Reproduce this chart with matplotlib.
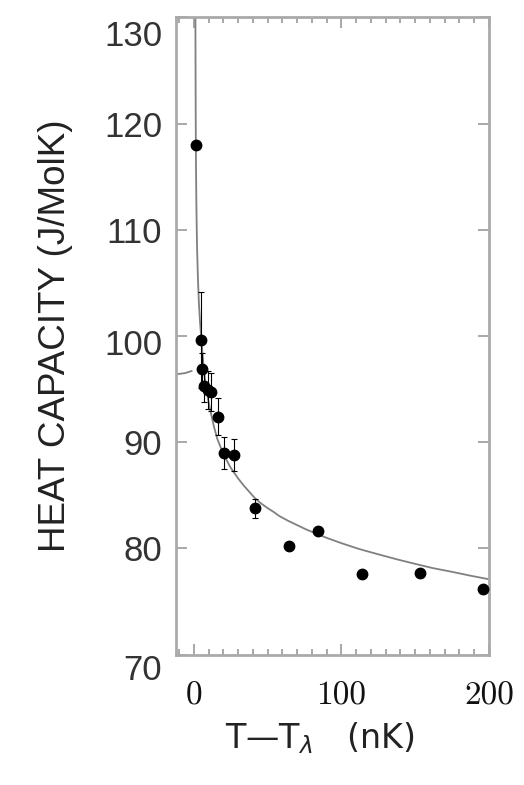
import numpy as np
import matplotlib
matplotlib.use('Agg')
import matplotlib.pyplot as plt
from matplotlib.ticker import MultipleLocator
from matplotlib.transforms import ScaledTranslation

# Data points: T - T_lambda (nK), heat capacity (J/Mol K), error
t_data = [1.3, 5.2, 5.9, 7.0, 9.7, 11.5, 16.7, 20.5, 27.3, 41.6, 64.6, 84.3, 113.7, 153.2, 195.7]
c_data = [118.0, 99.6, 96.9, 95.3, 94.9, 94.7, 92.4, 89.0, 88.8, 83.8, 80.2, 81.6, 77.6, 77.7, 76.2]
c_err = [0, 4.5, 1.5, 1.5, 1.8, 1.8, 1.75, 1.5, 1.5, 0.9, 0, 0, 0, 0, 0]

# Fit curve above T_lambda, sampled along the drawn line
t_fit = [1.1, 1.3, 1.5, 1.8, 2.2, 2.8, 3.5, 4.3, 5.2, 6.0, 7.0, 8.5, 10.0, 12.0, 13.8,
         16.0, 20.0, 25.0, 30.0, 34.0, 41.0, 45.0, 50.0, 54.0, 58.0, 64.0, 70.0, 76.0, 83.0,
         90.0, 100.0, 112.0, 125.0, 137.0, 150.0, 162.0, 175.0, 187.0, 200.0]
c_fit = [130.0, 121.0, 116.0, 112.0, 108.5, 105.5, 103.0, 101.2, 99.6, 98.2, 96.6, 95.0, 93.8, 92.5, 91.4,
         90.3, 88.9, 87.6, 86.6, 85.9, 84.8, 84.3, 83.8, 83.45, 83.05, 82.6, 82.2, 81.8, 81.4,
         81.0, 80.5, 79.95, 79.45, 79.0, 78.55, 78.15, 77.8, 77.45, 77.1]

# Fit curve below T_lambda
t_low = [-12.0, -6.0, -1.5]
c_low = [96.4, 96.5, 96.7]

y_ticks = [70, 80, 90, 100, 110, 120, 130]
x_ticks = [0, 100, 200]
label_shift = {'130': -16, '70': -12, '100': -6}

fig = plt.figure(figsize=(5.24, 7.85), dpi=100)
ax = fig.add_axes([0.336, 0.166, 0.597, 0.812])

ax.plot(t_fit, c_fit, color='#808080', lw=1.3, zorder=2)
ax.plot(t_low, c_low, color='#808080', lw=1.3, zorder=2)
ax.errorbar(t_data, c_data, yerr=c_err, fmt='o', color='black', ms=7.5,
            elinewidth=0.8, capsize=2.5, capthick=0.8, zorder=3)

ax.set_xlim(-12, 200)
ax.set_ylim(70, 130)

ax.tick_params(which='both', direction='in', top=True, right=True, color='#999999', width=1.2)
ax.tick_params(which='major', length=8)
ax.tick_params(which='minor', length=4)
ax.tick_params(axis='y', pad=10)
ax.tick_params(axis='x', pad=19)

ax.set_yticks(y_ticks)
ax.set_yticklabels([str(v) for v in y_ticks], fontsize=25, family='Liberation Sans', color='#333333')
ax.set_xticks(x_ticks)
ax.set_xticklabels([str(v) for v in x_ticks], fontsize=24, family='cmr10', color='#111111')
ax.xaxis.set_minor_locator(MultipleLocator(10))

for lab in ax.get_yticklabels():
    dy = label_shift.get(lab.get_text(), 0)
    if dy:
        lab.set_transform(lab.get_transform() + ScaledTranslation(0, dy / 100, fig.dpi_scale_trans))

for s in ax.spines.values():
    s.set_color('#aaaaaa')
    s.set_linewidth(2.0)

ax.set_ylabel('HEAT CAPACITY (J/MolK)', fontsize=26.5, family='Liberation Sans', color='#222222')
ax.yaxis.set_label_coords(-0.33, 0.5)
ax.set_xlabel('T\u2014T$_\\lambda$   (nK)', fontsize=24, family='DejaVu Sans', color='#222222')
ax.xaxis.set_label_coords(0.46, -0.103)

fig.savefig('out.png', dpi=100)
